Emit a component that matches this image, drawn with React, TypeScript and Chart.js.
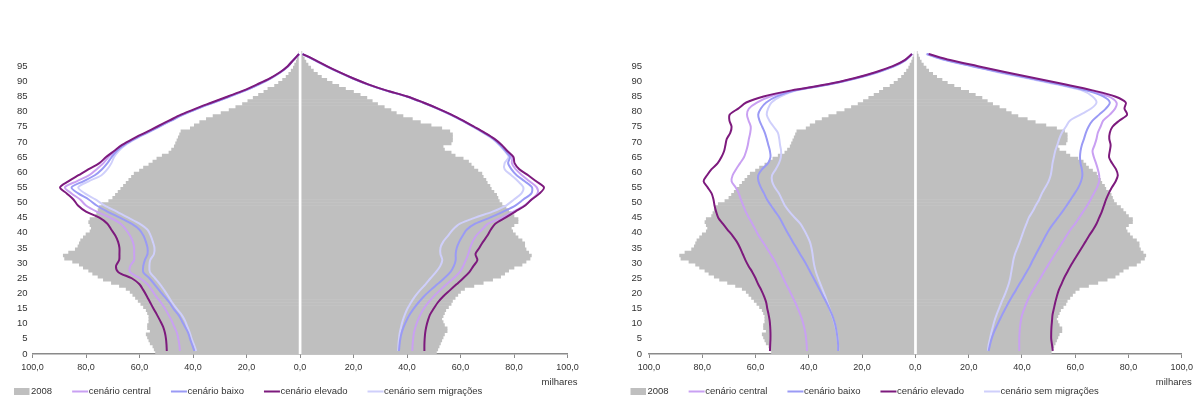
import React, { useEffect, useRef } from 'react';
import { Chart, registerables } from 'chart.js';

Chart.register(...registerables);

const FONT = '"Liberation Sans", Arial, sans-serif';
const TEXT_COLOR = '#333333';
const AXIS_COLOR = '#8a8a8a';

// single-year ages for the 2008 bars (0..100)
const AGES = Array.from({ length: 101 }, (_, i) => i);
// ages at which the projection lines were read
const LINE_AGES = [1, 3, 5, 7, 9, 11, 13, 15, 17, 19, 21, 23, 25, 27, 29, 31, 33, 35, 37, 39, 41, 43, 45, 47, 49, 51, 53, 55, 57, 59, 61, 63, 65, 67, 69, 71, 73, 75, 77, 79, 81, 83, 85, 87, 89, 91, 93, 95, 97, 99];

const X_TICKS = [-100, -80, -60, -40, -20, 0, 20, 40, 60, 80, 100];
const LEGEND_LABELS = ['2008', 'cenário central', 'cenário baixo', 'cenário elevado', 'cenário sem migrações'];
const UNIT_LABEL = 'milhares';

const MALE_2008 = [
  54, 54.5, 55, 56, 56.5, 57, 57.5, 56, 57, 57,
  56.5, 56.5, 56.5, 57, 57.5, 58.5, 59.5, 60.5, 61.5, 62.5,
  63.5, 65, 67.5, 70.5, 73.5, 75.5, 77.5, 79, 81, 82.5,
  85, 88, 88.5, 86.5, 84, 83, 82.5, 82, 81, 80,
  78.5, 78, 78.5, 79, 78.5, 76.5, 76, 75.5, 75, 74,
  71.5, 70, 69, 68, 67, 66, 65, 64, 63, 62,
  60, 58.5, 56.5, 55, 53.5, 51.5, 49, 48, 47, 46.5,
  46, 45.5, 45, 44.5, 41, 39.5, 37.5, 35, 32.5, 29.5,
  26.5, 24, 21.5, 19.5, 17.5, 15.5, 13.5, 12, 9.5, 8,
  6.5, 5.2, 4.2, 3.3, 2.5, 2, 1.4, 1, 0.6, 0.4, 0.3,
];
const FEMALE_2008 = [
  51, 51.5, 52, 52.5, 53, 53.5, 54, 55, 55, 54,
  53.5, 53, 53.5, 54, 54.5, 55.5, 56.5, 57, 58, 59,
  60, 61.5, 65, 68.5, 72, 75, 76.5, 78, 80, 83,
  84.5, 86, 86.5, 85.5, 84.5, 84, 84, 83, 81.5, 80.5,
  79.5, 79, 80, 81.5, 81.5, 80, 79, 78, 77, 75.5,
  74.5, 74, 73.5, 72.5, 71.5, 71, 70, 69.5, 68.5, 68,
  66.5, 65, 64, 63, 61, 58, 56.5, 54, 53.5, 56.5,
  57, 57, 57, 56, 53, 49, 45, 42, 38.5, 36,
  34, 31.5, 29, 27, 25, 22.5, 20, 17, 14.5, 12,
  10, 8, 6.5, 5, 4, 3, 2.2, 1.6, 1.1, 0.7, 0.5,
];

// ---- left chart projections ----
const L_MALE_CENTRAL = [
  44.9, 45.1, 45.5, 46.0, 47.0, 48.0, 49.2, 50.5, 52.0, 53.8,
  55.3, 57.0, 59.8, 63.5, 63.5, 62.0, 62.0, 62.0, 62.5, 63.5,
  65.0, 67.0, 71.0, 76.0, 80.0, 82.2, 85.4, 87.9, 83.5, 78.8,
  76.0, 73.5, 71.6, 69.0, 66.0, 62.0, 57.5, 53.0, 48.5, 44.0,
  38.5, 32.5, 26.5, 20.5, 15.5, 11.0, 7.3, 4.5, 2.5, 0.3,
];
const L_MALE_BAIXO = [
  39.5, 40.3, 41.1, 41.8, 43.0, 44.2, 45.5, 47.3, 48.8, 50.7,
  52.6, 54.4, 56.3, 58.6, 58.6, 58.0, 57.0, 57.0, 57.6, 58.5,
  60.0, 63.0, 67.4, 72.0, 76.0, 79.0, 82.9, 85.4, 81.0, 76.7,
  74.0, 72.0, 70.4, 68.5, 65.7, 61.8, 57.3, 52.8, 48.3, 43.8,
  38.3, 32.3, 26.3, 20.4, 15.4, 11.0, 7.3, 4.5, 2.5, 0.3,
];
const L_MALE_ELEVADO = [
  49.8, 49.9, 50.1, 50.5, 51.2, 52.3, 53.5, 54.8, 56.0, 57.2,
  58.5, 60.0, 62.9, 67.9, 68.8, 67.6, 67.5, 67.5, 68.0, 69.0,
  70.5, 72.0, 75.0, 80.0, 83.0, 84.7, 87.2, 89.7, 86.6, 82.8,
  79.0, 75.0, 72.5, 69.5, 66.5, 62.5, 58.0, 53.5, 49.0, 44.5,
  39.0, 33.0, 27.0, 21.0, 16.0, 11.3, 7.5, 4.6, 2.5, 0.4,
];
const L_MALE_SEM = [
  38.8, 39.6, 40.5, 41.2, 42.1, 43.0, 44.3, 46.1, 47.8, 49.2,
  50.7, 52.3, 54.2, 56.1, 56.3, 56.0, 54.6, 54.4, 55.0, 55.8,
  57.0, 60.0, 64.2, 68.5, 73.0, 76.5, 80.4, 82.9, 79.0, 74.2,
  72.0, 70.5, 69.5, 67.8, 65.2, 61.4, 57.0, 52.6, 48.1, 43.6,
  38.2, 32.2, 26.2, 20.3, 15.3, 10.9, 7.2, 4.4, 2.4, 0.3,
];
const L_FEMALE_CENTRAL = [
  42.0, 42.1, 42.3, 42.6, 43.2, 44.0, 45.0, 46.3, 48.0, 50.0,
  52.3, 54.8, 57.4, 59.7, 61.0, 62.0, 62.9, 63.6, 64.5, 65.8,
  68.0, 70.3, 75.4, 79.8, 83.8, 86.5, 88.8, 88.5, 85.8, 83.0,
  80.6, 79.2, 79.3, 77.3, 75.2, 72.5, 68.9, 64.9, 60.8, 56.4,
  51.5, 46.0, 40.0, 32.1, 25.4, 19.7, 14.6, 9.9, 5.6, 0.9,
];
const L_FEMALE_BAIXO = [
  37.0, 37.2, 37.5, 38.0, 38.8, 39.8, 41.0, 42.5, 44.3, 46.3,
  48.7, 51.3, 53.9, 56.2, 57.5, 58.2, 58.2, 58.6, 59.5, 60.8,
  62.3, 65.5, 71.0, 76.0, 80.5, 83.5, 86.5, 86.7, 84.0, 81.0,
  79.0, 77.8, 78.5, 76.8, 74.8, 72.3, 68.7, 64.8, 60.7, 56.3,
  51.4, 45.9, 39.9, 32.0, 25.3, 19.6, 14.5, 9.8, 5.5, 0.9,
];
const L_FEMALE_ELEVADO = [
  46.5, 46.5, 46.6, 46.8, 47.2, 47.8, 48.6, 50.0, 51.5, 53.5,
  56.0, 58.5, 61.0, 63.3, 64.8, 66.3, 65.6, 67.0, 68.4, 70.0,
  71.3, 73.0, 76.8, 80.5, 84.2, 86.6, 89.6, 91.2, 88.3, 85.3,
  82.0, 80.2, 79.8, 77.5, 75.4, 72.7, 69.1, 65.1, 61.0, 56.6,
  51.6, 46.1, 40.1, 32.2, 25.5, 19.8, 14.7, 10.0, 5.7, 1.0,
];
const L_FEMALE_SEM = [
  36.7, 36.8, 37.0, 37.3, 37.8, 38.4, 39.2, 40.2, 41.5, 43.0,
  44.8, 46.9, 48.8, 50.8, 52.4, 53.2, 52.5, 52.5, 53.5, 55.3,
  57.1, 59.8, 65.5, 72.0, 77.0, 80.0, 82.8, 83.5, 81.5, 79.0,
  76.5, 76.5, 78.0, 76.5, 74.5, 72.0, 68.5, 64.6, 60.6, 56.2,
  51.3, 45.8, 39.8, 31.9, 25.2, 19.5, 14.4, 9.7, 5.4, 0.9,
];

// ---- right chart projections ----
const R_MALE_CENTRAL = [
  40.7, 40.8, 41.0, 41.3, 41.8, 42.4, 43.2, 44.1, 45.1, 46.2,
  47.3, 48.5, 49.6, 50.6, 51.8, 53.0, 54.4, 55.8, 57.3, 58.8,
  60.0, 61.2, 62.5, 63.7, 64.6, 65.5, 66.3, 67.5, 69.0, 68.6,
  67.3, 65.8, 64.3, 63.5, 62.9, 62.5, 62.0, 61.8, 62.6, 63.2,
  62.5, 59.5, 54.5, 45.5, 32.5, 22.5, 14.5, 8.0, 3.8, 1.2,
];
const R_MALE_BAIXO = [
  29.0, 29.0, 29.2, 29.5, 29.9, 30.5, 31.3, 32.3, 33.4, 34.6,
  35.8, 37.0, 38.2, 39.4, 40.6, 41.9, 43.3, 44.6, 46.0, 47.3,
  48.6, 49.8, 51.0, 52.6, 54.2, 55.7, 56.8, 58.0, 58.9, 59.0,
  57.5, 55.3, 54.4, 54.6, 55.2, 55.8, 56.5, 57.5, 58.5, 59.0,
  58.0, 56.0, 52.0, 45.0, 32.3, 22.3, 14.3, 7.9, 3.7, 1.2,
];
const R_MALE_ELEVADO = [
  54.6, 54.5, 54.4, 54.4, 54.5, 54.7, 55.1, 55.6, 56.0, 56.8,
  57.8, 59.0, 60.0, 61.2, 62.6, 63.8, 64.8, 65.8, 67.0, 68.6,
  70.5, 72.3, 74.0, 74.8, 75.4, 75.8, 76.5, 78.0, 79.5, 78.2,
  76.5, 74.2, 72.8, 71.8, 71.3, 70.8, 69.5, 69.0, 69.8, 69.7,
  66.5, 63.5, 57.0, 46.5, 33.0, 23.0, 15.0, 8.5, 4.0, 1.3,
];
const R_MALE_SEM = [
  28.9, 29.0, 29.2, 29.5, 30.0, 30.6, 31.4, 32.2, 33.0, 33.8,
  34.7, 35.6, 36.5, 37.3, 37.9, 38.3, 38.6, 39.0, 39.6, 40.6,
  41.8, 43.2, 45.3, 47.3, 49.0, 50.1, 51.2, 52.8, 53.8, 53.8,
  52.4, 51.2, 50.5, 50.4, 50.8, 51.1, 51.6, 53.2, 54.8, 55.8,
  55.3, 54.0, 50.5, 44.5, 32.0, 22.0, 14.0, 7.8, 3.6, 1.2,
];
const R_FEMALE_CENTRAL = [
  39.0, 39.0, 39.0, 39.1, 39.3, 39.6, 40.1, 40.9, 41.8, 42.8,
  44.1, 45.5, 46.9, 48.2, 49.6, 51.0, 52.4, 53.9, 55.3, 56.7,
  58.2, 60.0, 61.5, 63.0, 64.5, 65.8, 67.0, 68.2, 69.0, 69.0,
  68.5, 67.8, 67.0, 66.5, 67.3, 68.0, 68.5, 69.5, 70.5, 73.0,
  75.0, 75.5, 72.5, 65.0, 54.5, 43.5, 32.5, 22.0, 12.0, 4.5,
];
const R_FEMALE_BAIXO = [
  27.5, 28.0, 28.6, 29.4, 30.4, 31.5, 32.6, 33.8, 35.0, 36.3,
  37.7, 39.0, 40.4, 41.7, 43.0, 44.1, 45.3, 46.5, 47.7, 48.9,
  50.2, 51.8, 53.5, 55.2, 56.8, 58.3, 59.8, 61.2, 62.2, 62.7,
  62.5, 62.0, 61.8, 62.0, 62.5, 63.3, 64.0, 65.0, 66.5, 69.0,
  71.5, 73.0, 70.5, 64.0, 54.0, 43.0, 32.0, 21.5, 11.5, 4.3,
];
const R_FEMALE_ELEVADO = [
  51.6, 51.3, 51.0, 51.0, 51.1, 51.3, 51.5, 52.0, 52.5, 53.1,
  53.8, 54.8, 55.8, 57.0, 58.2, 59.6, 61.0, 62.4, 63.8, 65.2,
  66.7, 68.0, 69.0, 70.0, 70.8, 71.6, 72.6, 73.8, 75.2, 76.0,
  75.3, 73.8, 72.7, 73.0, 73.3, 72.8, 73.0, 74.0, 76.5, 79.5,
  78.5, 79.0, 75.0, 66.5, 56.0, 45.0, 34.0, 23.5, 13.0, 5.0,
];
const R_FEMALE_SEM = [
  27.2, 27.5, 28.0, 28.5, 29.1, 29.7, 30.5, 31.4, 32.3, 33.3,
  34.2, 35.0, 35.6, 36.0, 36.4, 36.8, 37.4, 38.3, 39.2, 40.0,
  40.8, 41.7, 42.6, 44.0, 45.2, 46.5, 47.5, 48.8, 50.0, 50.8,
  51.2, 51.5, 52.0, 52.5, 53.3, 54.0, 55.0, 56.5, 58.0, 62.0,
  66.0, 68.0, 66.5, 62.5, 53.0, 42.0, 31.0, 21.0, 11.0, 4.0,
];

const BAR_COLOR = '#BFBFBF';
const COLOR_CENTRAL = '#C9A0F2';
const COLOR_BAIXO = '#9A9AF5';
const COLOR_ELEVADO = '#7D1A7D';
const COLOR_SEM = '#CFCFFB';

type Scen = { label: string; color: string; male: number[]; female: number[]; order: number };

const LEFT_SCEN: Scen[] = [
  { label: LEGEND_LABELS[1], color: COLOR_CENTRAL, male: L_MALE_CENTRAL, female: L_FEMALE_CENTRAL, order: 3 },
  { label: LEGEND_LABELS[2], color: COLOR_BAIXO, male: L_MALE_BAIXO, female: L_FEMALE_BAIXO, order: 2 },
  { label: LEGEND_LABELS[3], color: COLOR_ELEVADO, male: L_MALE_ELEVADO, female: L_FEMALE_ELEVADO, order: 1 },
  { label: LEGEND_LABELS[4], color: COLOR_SEM, male: L_MALE_SEM, female: L_FEMALE_SEM, order: 4 },
];
const RIGHT_SCEN: Scen[] = [
  { label: LEGEND_LABELS[1], color: COLOR_CENTRAL, male: R_MALE_CENTRAL, female: R_FEMALE_CENTRAL, order: 3 },
  { label: LEGEND_LABELS[2], color: COLOR_BAIXO, male: R_MALE_BAIXO, female: R_FEMALE_BAIXO, order: 2 },
  { label: LEGEND_LABELS[3], color: COLOR_ELEVADO, male: R_MALE_ELEVADO, female: R_FEMALE_ELEVADO, order: 1 },
  { label: LEGEND_LABELS[4], color: COLOR_SEM, male: R_MALE_SEM, female: R_FEMALE_SEM, order: 4 },
];

const centerLinePlugin = {
  id: 'centerLine',
  afterDatasetDraw(chart: any, args: any) {
    const ds = chart.data.datasets[args.index];
    if (ds.type !== 'bar') return;
    const { ctx, chartArea } = chart;
    const x = chart.scales.x.getPixelForValue(0);
    ctx.save();
    ctx.strokeStyle = '#ffffff';
    ctx.lineWidth = 2.5;
    ctx.beginPath();
    ctx.moveTo(x, chartArea.top);
    ctx.lineTo(x, chartArea.bottom);
    ctx.stroke();
    ctx.restore();
  },
};

const legendPlugin = {
  id: 'customLegend',
  afterDraw(chart: any) {
    const { ctx, chartArea } = chart;
    const scen: Scen[] = chart.options.plugins.customLegend.scen;
    ctx.save();
    ctx.font = `9.5px ${FONT}`;
    ctx.textBaseline = 'middle';
    ctx.textAlign = 'left';
    const y = 391.5;
    let x = chartArea.left - 18.5;
    ctx.fillStyle = BAR_COLOR;
    ctx.fillRect(x, y - 3.5, 15.5, 7);
    ctx.fillStyle = TEXT_COLOR;
    ctx.fillText(LEGEND_LABELS[0], x + 17, y);
    x += 17 + ctx.measureText(LEGEND_LABELS[0]).width + 20;
    scen.forEach((s) => {
      ctx.strokeStyle = s.color;
      ctx.lineWidth = 2;
      ctx.beginPath();
      ctx.moveTo(x, y);
      ctx.lineTo(x + 16, y);
      ctx.stroke();
      ctx.fillStyle = TEXT_COLOR;
      ctx.fillText(s.label, x + 16.5, y);
      x += 16.5 + ctx.measureText(s.label).width + 20;
    });
    ctx.textAlign = 'right';
    ctx.fillText(UNIT_LABEL, chartArea.right + 10, 382);
    ctx.restore();
  },
};

function fmt(v: number) {
  return Math.abs(v).toFixed(1).replace('.', ',');
}

function makeChart(canvas: HTMLCanvasElement, scen: Scen[], yWidth: number, rightPad: number, yPad: number) {
  const datasets: any[] = [
    {
      type: 'bar',
      label: LEGEND_LABELS[0],
      indexAxis: 'y',
      data: AGES.map((a, i) => ({ x: -MALE_2008[i], y: a + 0.5 })),
      backgroundColor: BAR_COLOR,
      borderWidth: 0,
      grouped: false,
      barPercentage: 1,
      categoryPercentage: 1,
      order: 10,
    },
    {
      type: 'bar',
      label: LEGEND_LABELS[0],
      indexAxis: 'y',
      data: AGES.map((a, i) => ({ x: FEMALE_2008[i], y: a + 0.5 })),
      backgroundColor: BAR_COLOR,
      borderWidth: 0,
      grouped: false,
      barPercentage: 1,
      categoryPercentage: 1,
      order: 10,
    },
  ];
  scen.forEach((s) => {
    [
      s.male.map((v, i) => ({ x: -v, y: LINE_AGES[i] })),
      s.female.map((v, i) => ({ x: v, y: LINE_AGES[i] })),
    ].forEach((data) => {
      datasets.push({
        type: 'line',
        label: s.label,
        indexAxis: 'y',
        data,
        borderColor: s.color,
        borderWidth: 2,
        pointRadius: 0,
        tension: 0.3,
        fill: false,
        order: s.order,
      });
    });
  });

  return new Chart(canvas, {
    type: 'bar',
    data: { datasets },
    plugins: [centerLinePlugin, legendPlugin],
    options: {
      indexAxis: 'y',
      responsive: false,
      animation: false,
      devicePixelRatio: 1,
      layout: { padding: { top: 51, left: 0, right: rightPad, bottom: 26 } },
      plugins: {
        legend: { display: false },
        tooltip: { enabled: false },
        customLegend: { scen },
      } as any,
      scales: {
        x: {
          type: 'linear',
          min: -100,
          max: 100,
          offset: false,
          afterBuildTicks: (axis: any) => {
            axis.ticks = X_TICKS.map((v) => ({ value: v }));
          },
          ticks: {
            callback: (v: any) => fmt(Number(v)),
            font: { family: FONT, size: 9 },
            color: TEXT_COLOR,
            padding: 4,
            maxRotation: 0,
            autoSkip: false,
          },
          grid: { drawOnChartArea: false, drawTicks: true, tickLength: 4, color: AXIS_COLOR, lineWidth: 1, offset: false },
          border: { display: true, color: AXIS_COLOR, width: 1.5 },
          afterFit: (s: any) => {
            s.height = 20;
          },
        },
        y: {
          type: 'linear',
          min: 0,
          max: 100,
          offset: false,
          ticks: {
            stepSize: 5,
            autoSkip: false,
            callback: (v: any) => (Number(v) >= 100 ? '' : String(v)),
            font: { family: FONT, size: 9.5 },
            color: TEXT_COLOR,
            padding: yPad,
          },
          grid: { display: false, drawTicks: false, offset: false },
          border: { display: false },
          afterFit: (s: any) => {
            s.width = yWidth;
          },
        },
      },
    } as any,
  });
}

export default function App() {
  const leftRef = useRef<HTMLCanvasElement>(null);
  const rightRef = useRef<HTMLCanvasElement>(null);

  useEffect(() => {
    const c1 = makeChart(leftRef.current!, LEFT_SCEN, 32.5, 30.5, 5);
    const c2 = makeChart(rightRef.current!, RIGHT_SCEN, 51, 13, 7);
    return () => {
      c1.destroy();
      c2.destroy();
    };
  }, []);

  return (
    <div style={{ position: 'absolute', left: 0, top: 0, width: 1197, height: 400, background: '#ffffff' }}>
      <canvas ref={leftRef} width={598} height={400} style={{ position: 'absolute', left: 0, top: 0, width: 598, height: 400 }} />
      <canvas ref={rightRef} width={599} height={400} style={{ position: 'absolute', left: 598, top: 0, width: 599, height: 400 }} />
    </div>
  );
}
